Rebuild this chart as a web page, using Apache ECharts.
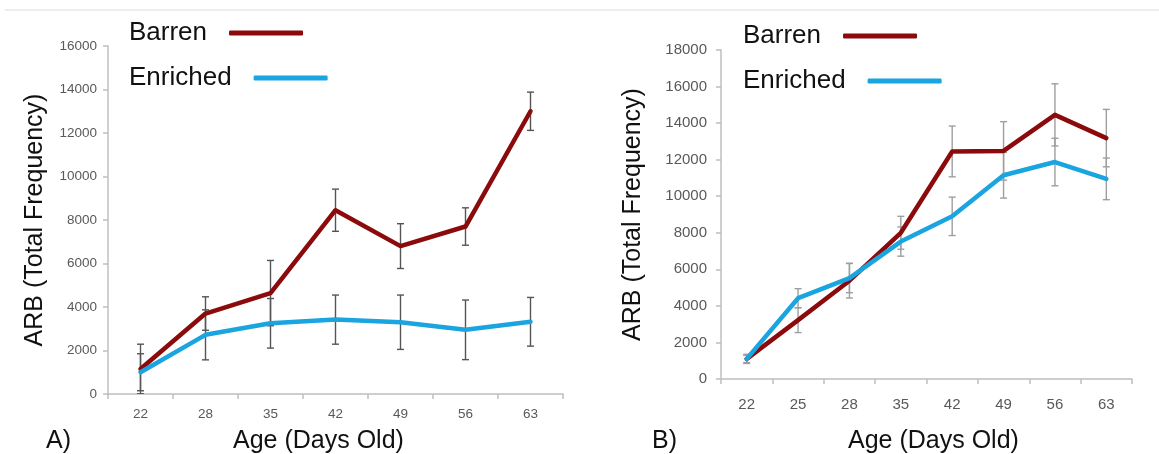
<!DOCTYPE html>
<html>
<head>
<meta charset="utf-8">
<script src="https://cdn.jsdelivr.net/npm/echarts@6/dist/echarts.min.js"></script>
<style>
html,body{margin:0;padding:0;background:#fff;}
#c{width:1159px;height:454px;}
</style>
</head>
<body>
<div id="c"></div>
<script>
// ---- Data ----
const categoriesA = ['22', '28', '35', '42', '49', '56', '63'];
const barrenA      = [1150, 3700, 4640, 8450, 6800, 7700, 13000];
const barrenErrA   = [1140, 770, 1500, 970, 1030, 860, 880];
const enrichedA    = [1000, 2720, 3250, 3420, 3300, 2950, 3320];
const enrichedErrA = [850, 1150, 1140, 1130, 1250, 1370, 1120];

const categoriesB = ['22', '25', '28', '35', '42', '49', '56', '63'];
const barrenB      = [1100, 3220, 5380, 8000, 12450, 12480, 14450, 13180];
const barrenErrB   = [250, 680, 950, 900, 1390, 1600, 1700, 1570];
const enrichedB    = [1100, 4420, 5520, 7520, 8900, 11150, 11870, 10950];
const enrichedErrB = [200, 520, 800, 800, 1050, 1250, 1300, 1140];

const yTicksA = {min: 0, max: 16000, interval: 2000};
const yTicksB = {min: 0, max: 18000, interval: 2000};

const BARREN = '#8B0A0C';
const ENRICHED = '#1AA4E0';
const FONT = 'Liberation Sans, Arial, sans-serif';

function errData(vals, errs) {
  return vals.map((v, i) => [i, v - errs[i], v + errs[i]]);
}
function errSeries(name, data, xi, color, half) {
  return {
    type: 'custom', name: name, xAxisIndex: xi, yAxisIndex: xi, z: 1, clip: true,
    silent: true,
    renderItem: function (params, api) {
      const x = api.value(0);
      const lo = api.coord([x, api.value(1)]);
      const hi = api.coord([x, api.value(2)]);
      const st = {stroke: color, lineWidth: 1.4};
      return {
        type: 'group',
        children: [
          {type: 'line', shape: {x1: lo[0], y1: lo[1], x2: hi[0], y2: hi[1]}, style: st},
          {type: 'line', shape: {x1: lo[0] - half, y1: lo[1], x2: lo[0] + half, y2: lo[1]}, style: st},
          {type: 'line', shape: {x1: hi[0] - half, y1: hi[1], x2: hi[0] + half, y2: hi[1]}, style: st}
        ]
      };
    },
    data: data
  };
}
function lineSeries(name, data, xi, color, w, z) {
  return {
    type: 'line', name: name, xAxisIndex: xi, yAxisIndex: xi, data: data,
    showSymbol: false, symbol: 'none', z: z,
    lineStyle: {color: color, width: w, cap: 'round', join: 'round'},
    itemStyle: {color: color}
  };
}
function legendItem(name, left, top, padBottom) {
  return {
    left: left, top: top, orient: 'horizontal', align: 'right',
    icon: 'roundRect', itemWidth: 74, itemHeight: 5, selectedMode: false,
    data: [name],
    textStyle: {fontFamily: FONT, fontSize: 26, color: '#111', padding: [0, 17, padBottom, 0]}
  };
}
const axisLine = {show: true, lineStyle: {color: '#bfbfbf', width: 1.5}};
const axisTick = {show: true, length: 5, lineStyle: {color: '#bfbfbf', width: 1.5}};
const plain = v => String(v);

const chart = echarts.init(document.getElementById('c'), null, {renderer: 'canvas'});
chart.setOption({
  backgroundColor: '#ffffff',
  animation: false,
  grid: [
    {left: 108, top: 46, width: 455, height: 348},
    {left: 721, top: 50, width: 411, height: 329}
  ],
  legend: [
    legendItem('Barren', 124, 15, 12),
    legendItem('Enriched', 124, 60, 12),
    legendItem('Barren', 738, 18, 8),
    legendItem('Enriched', 738, 63, 8)
  ],
  xAxis: [
    {
      type: 'category', gridIndex: 0, data: categoriesA, boundaryGap: true,
      axisLine: axisLine, axisTick: axisTick,
      axisLabel: {fontFamily: FONT, fontSize: 13.5, color: '#595959', margin: 13}
    },
    {
      type: 'category', gridIndex: 1, data: categoriesB, boundaryGap: true,
      axisLine: axisLine, axisTick: axisTick,
      axisLabel: {fontFamily: FONT, fontSize: 15, color: '#595959', margin: 18}
    }
  ],
  yAxis: [
    {
      type: 'value', gridIndex: 0, min: yTicksA.min, max: yTicksA.max, interval: yTicksA.interval,
      axisLine: axisLine, axisTick: axisTick, splitLine: {show: false},
      axisLabel: {fontFamily: FONT, fontSize: 13.5, color: '#595959', margin: 11, formatter: plain},
      name: 'ARB (Total Frequency)', nameLocation: 'middle', nameRotate: 90, nameGap: 60,
      nameTextStyle: {fontFamily: FONT, fontSize: 25, color: '#111'}
    },
    {
      type: 'value', gridIndex: 1, min: yTicksB.min, max: yTicksB.max, interval: yTicksB.interval,
      axisLine: axisLine, axisTick: axisTick, splitLine: {show: false},
      axisLabel: {fontFamily: FONT, fontSize: 15, color: '#595959', margin: 14, formatter: plain},
      name: 'ARB (Total Frequency)', nameLocation: 'middle', nameRotate: 90, nameGap: 75,
      nameTextStyle: {fontFamily: FONT, fontSize: 25, color: '#111'}
    }
  ],
  graphic: [
    {type: 'line', shape: {x1: 5, y1: 10, x2: 1159, y2: 10}, style: {stroke: '#dcdcdc', lineWidth: 1}},
    {type: 'text', left: 46, top: 429, style: {text: 'A)', fontFamily: FONT, fontSize: 25, fill: '#111'}},
    {type: 'text', left: 233, top: 429, style: {text: 'Age (Days Old)', fontFamily: FONT, fontSize: 25, fill: '#111'}},
    {type: 'text', left: 652, top: 429, style: {text: 'B)', fontFamily: FONT, fontSize: 25, fill: '#111'}},
    {type: 'text', left: 848, top: 429, style: {text: 'Age (Days Old)', fontFamily: FONT, fontSize: 25, fill: '#111'}}
  ],
  series: [
    errSeries('errBarrenA', errData(barrenA, barrenErrA), 0, '#555555', 3.5),
    errSeries('errEnrichedA', errData(enrichedA, enrichedErrA), 0, '#555555', 3.5),
    lineSeries('Barren', barrenA, 0, BARREN, 4.5, 2),
    lineSeries('Enriched', enrichedA, 0, ENRICHED, 4.5, 3),
    errSeries('errBarrenB', errData(barrenB, barrenErrB), 1, '#9e9e9e', 3.5),
    errSeries('errEnrichedB', errData(enrichedB, enrichedErrB), 1, '#9e9e9e', 3.5),
    lineSeries('Barren', barrenB, 1, BARREN, 4.5, 2),
    lineSeries('Enriched', enrichedB, 1, ENRICHED, 4.5, 3)
  ]
});
</script>
</body>
</html>
